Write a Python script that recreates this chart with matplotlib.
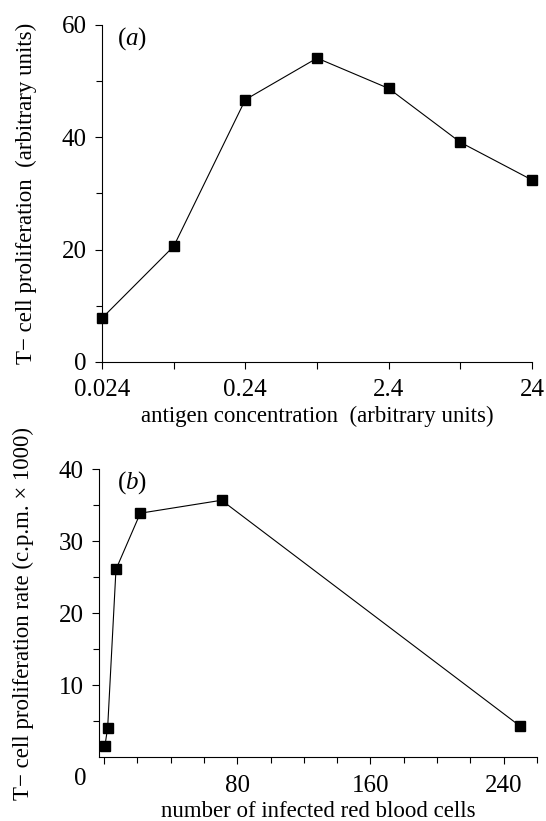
import matplotlib
matplotlib.use("Agg")
import matplotlib.pyplot as plt
from matplotlib.ticker import FixedLocator, NullFormatter

plt.rcParams['font.family'] = ['Liberation Serif', 'DejaVu Serif']
plt.rcParams['mathtext.fontset'] = 'custom'
plt.rcParams['mathtext.rm'] = 'Liberation Serif'
plt.rcParams['mathtext.it'] = 'Liberation Serif:italic'
plt.rcParams['font.size'] = 16.5
plt.rcParams['xtick.labelsize'] = 18
plt.rcParams['ytick.labelsize'] = 18

# (a) proliferation vs antigen concentration (log scale)
antigen_conc = [0.024, 0.076, 0.24, 0.76, 2.4, 7.6, 24]
prolif_a = [7.8, 20.6, 46.7, 54.1, 48.7, 39.1, 32.4]
conc_ticks = [0.024, 0.24, 2.4, 24]
conc_tick_labels = ['0.024', '0.24', '2.4', '24']
conc_minor = [0.076, 0.76, 7.6]

# (b) proliferation rate vs number of infected red blood cells
n_cells = [0.5, 2.2, 7.2, 21.8, 70.6, 250]
prolif_b = [1.5, 4.1, 26.1, 33.9, 35.7, 4.3]

fig = plt.figure(figsize=(5.46, 8.21), dpi=100)

line_kw = dict(color='black', linewidth=0.8, marker='s', markersize=6.5,
               markerfacecolor='black', markeredgecolor='black', clip_on=False)


def style_axis(ax):
    for side in ('top', 'right'):
        ax.spines[side].set_visible(False)
    for side in ('left', 'bottom'):
        ax.spines[side].set_linewidth(0.8)
    ax.tick_params(which='major', direction='out', length=5, width=0.8)
    ax.tick_params(which='minor', direction='out', length=4, width=0.8)
    ax.tick_params(axis='x', which='major', pad=7.5)
    ax.tick_params(axis='y', which='major', pad=6)


# panel (a)
ax1 = fig.add_axes([0.1868, 0.5591, 0.7876, 0.4105])
ax1.plot(antigen_conc, prolif_a, **line_kw)
ax1.set_xscale('log')
ax1.set_xlim(0.024, 24)
ax1.set_ylim(0, 60)
ax1.xaxis.set_major_locator(FixedLocator(conc_ticks))
ax1.set_xticklabels(conc_tick_labels)
ax1.xaxis.set_minor_locator(FixedLocator(conc_minor))
ax1.xaxis.set_minor_formatter(NullFormatter())
ax1.set_yticks([0, 20, 40, 60])
ax1.yaxis.set_minor_locator(FixedLocator([10, 30, 50]))
style_axis(ax1)
ax1.tick_params(axis='x', which='minor', length=5)
ax1.set_xlabel('antigen concentration  (arbitrary units)', labelpad=3)
ax1.set_ylabel('T\u2212 cell proliferation  (arbitrary units)', labelpad=18)
ax1.text(0.036, 1.0, r'($\mathit{a}$)', transform=ax1.transAxes,
         ha='left', va='top', fontsize=18)

# panel (b)
ax2 = fig.add_axes([0.1813, 0.0776, 0.8022, 0.3508])
ax2.plot(n_cells, prolif_b, **line_kw)
ax2.set_xlim(-3, 260)
ax2.set_ylim(0, 40)
ax2.set_xticks([0, 80, 160, 240])
ax2.set_xticklabels(['', '80', '160', '240'])
ax2.xaxis.set_minor_locator(FixedLocator([20, 40, 60, 100, 120, 140,
                                          180, 200, 220, 260]))
ax2.set_yticks([10, 20, 30, 40])
ax2.yaxis.set_minor_locator(FixedLocator([5, 15, 25, 35]))
style_axis(ax2)
ax2.annotate('0', xy=(0, 0), xycoords='data', xytext=(-24, -22),
             textcoords='offset pixels', ha='center', va='center',
             fontsize=18)
ax2.set_xlabel('number of infected red blood cells', labelpad=3)
ax2.set_ylabel('T\u2212 cell proliferation rate (c.p.m. \u00d7 1000)',
               labelpad=18)
ax2.text(0.04, 1.0, r'($\mathit{b}$)', transform=ax2.transAxes,
         ha='left', va='top', fontsize=18)

fig.savefig('out.png', dpi=100)
